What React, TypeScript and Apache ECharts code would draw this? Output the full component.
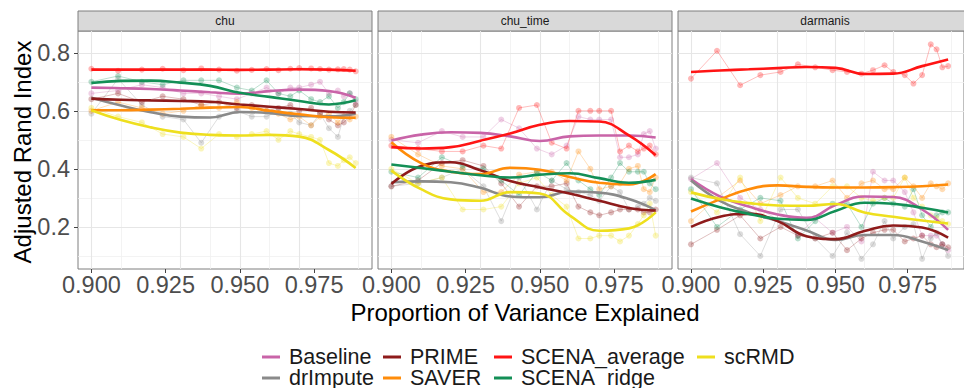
import React, { useEffect, useRef } from "react";
import * as echarts from "echarts";

const PANELS = ["chu", "chu_time", "darmanis"];
// draw order (ggplot factor order); later ones on top
const METHODS = ["Baseline", "drImpute", "PRIME", "SAVER", "SCENA_average", "SCENA_ridge", "scRMD"];
const METHOD_COLORS: Record<string, string> = {
  Baseline: "#C964A8",
  drImpute: "#8A8A8A",
  PRIME: "#8E1B1B",
  SAVER: "#FF8C0A",
  SCENA_average: "#FF1414",
  SCENA_ridge: "#138F56",
  scRMD: "#EEDF1E",
};
const LEGEND_COLUMNS = [
  ["Baseline", "drImpute"],
  ["PRIME", "SAVER"],
  ["SCENA_average", "SCENA_ridge"],
  ["scRMD"],
];

const X_RAW = [0.900, 0.909, 0.917, 0.924, 0.931, 0.937, 0.943, 0.949, 0.954, 0.959, 0.963, 0.967, 0.970, 0.974, 0.977, 0.980, 0.983, 0.985, 0.987, 0.989];
const X_SMOOTH = [0.900, 0.910, 0.920, 0.930, 0.940, 0.950, 0.960, 0.970, 0.980, 0.989];
const X_TICKS = [0.9, 0.925, 0.95, 0.975];
const X_MINOR = [0.9125, 0.9375, 0.9625, 0.9875];
const Y_TICKS = [0.2, 0.4, 0.6, 0.8];
const Y_MINOR = [0.1, 0.3, 0.5, 0.7];

// ---- chu ----
const chu_Baseline_raw = [0.66, 0.67, 0.69, 0.68, 0.66, 0.66, 0.65, 0.64, 0.66, 0.68, 0.66, 0.68, 0.68, 0.69, 0.70, 0.66, 0.67, 0.65, 0.66, 0.63];
const chu_drImpute_raw = [0.59, 0.71, 0.62, 0.58, 0.57, 0.49, 0.58, 0.60, 0.58, 0.58, 0.60, 0.59, 0.56, 0.55, 0.59, 0.54, 0.51, 0.58, 0.60, 0.62];
const chu_PRIME_raw = [0.64, 0.66, 0.63, 0.65, 0.64, 0.62, 0.63, 0.61, 0.62, 0.60, 0.61, 0.62, 0.60, 0.61, 0.59, 0.57, 0.55, 0.56, 0.58, 0.62];
const chu_SAVER_raw = [0.60, 0.63, 0.61, 0.59, 0.60, 0.62, 0.61, 0.63, 0.61, 0.60, 0.59, 0.57, 0.58, 0.55, 0.58, 0.59, 0.56, 0.58, 0.57, 0.58];
const chu_SCENA_average_raw = [0.745, 0.738, 0.742, 0.745, 0.740, 0.746, 0.742, 0.738, 0.741, 0.744, 0.740, 0.745, 0.747, 0.746, 0.744, 0.742, 0.743, 0.744, 0.742, 0.736];
const chu_SCENA_ridge_raw = [0.70, 0.72, 0.70, 0.69, 0.705, 0.705, 0.705, 0.68, 0.67, 0.705, 0.66, 0.65, 0.67, 0.64, 0.63, 0.65, 0.61, 0.63, 0.66, 0.64];
const chu_scRMD_raw = [0.61, 0.58, 0.56, 0.52, 0.51, 0.47, 0.52, 0.51, 0.52, 0.53, 0.50, 0.53, 0.52, 0.51, 0.50, 0.42, 0.41, 0.43, 0.44, 0.42];

const chu_Baseline_fit = [0.680, 0.678, 0.675, 0.670, 0.664, 0.659, 0.668, 0.673, 0.668, 0.645];
const chu_drImpute_fit = [0.645, 0.618, 0.595, 0.580, 0.577, 0.596, 0.592, 0.582, 0.581, 0.590];
const chu_PRIME_fit = [0.642, 0.638, 0.636, 0.634, 0.631, 0.622, 0.614, 0.606, 0.597, 0.594];
const chu_SAVER_fit = [0.602, 0.602, 0.604, 0.607, 0.611, 0.613, 0.600, 0.588, 0.578, 0.576];
const chu_SCENA_average_fit = [0.742, 0.742, 0.742, 0.742, 0.742, 0.741, 0.742, 0.743, 0.742, 0.738];
const chu_SCENA_ridge_fit = [0.696, 0.703, 0.704, 0.697, 0.686, 0.662, 0.648, 0.634, 0.622, 0.636];
const chu_scRMD_fit = [0.602, 0.568, 0.543, 0.525, 0.517, 0.515, 0.517, 0.511, 0.465, 0.403];

// ---- chu_time ----
const chuTime_Baseline_raw = [0.50, 0.49, 0.53, 0.51, 0.51, 0.57, 0.54, 0.47, 0.45, 0.48, 0.58, 0.57, 0.57, 0.57, 0.44, 0.44, 0.45, 0.52, 0.53, 0.47];
const chuTime_drImpute_raw = [0.34, 0.35, 0.37, 0.40, 0.34, 0.22, 0.37, 0.26, 0.36, 0.33, 0.32, 0.31, 0.29, 0.34, 0.32, 0.26, 0.27, 0.28, 0.30, 0.29];
const chuTime_PRIME_raw = [0.34, 0.36, 0.42, 0.43, 0.41, 0.35, 0.27, 0.34, 0.34, 0.35, 0.27, 0.25, 0.24, 0.25, 0.26, 0.26, 0.26, 0.25, 0.25, 0.26];
const chuTime_SAVER_raw = [0.51, 0.45, 0.41, 0.40, 0.32, 0.32, 0.38, 0.39, 0.39, 0.36, 0.46, 0.40, 0.33, 0.34, 0.35, 0.40, 0.41, 0.33, 0.32, 0.37];
const chuTime_SCENA_average_raw = [0.48, 0.47, 0.46, 0.46, 0.48, 0.47, 0.61, 0.62, 0.49, 0.47, 0.60, 0.60, 0.60, 0.60, 0.46, 0.48, 0.46, 0.47, 0.48, 0.45];
const chuTime_SCENA_ridge_raw = [0.39, 0.37, 0.44, 0.41, 0.40, 0.36, 0.31, 0.39, 0.36, 0.42, 0.36, 0.33, 0.31, 0.37, 0.42, 0.39, 0.39, 0.39, 0.35, 0.33];
const chuTime_scRMD_raw = [0.40, 0.35, 0.37, 0.26, 0.26, 0.27, 0.35, 0.37, 0.31, 0.27, 0.16, 0.16, 0.17, 0.17, 0.15, 0.17, 0.21, 0.24, 0.28, 0.17];

const chuTime_Baseline_fit = [0.498, 0.518, 0.526, 0.524, 0.512, 0.496, 0.512, 0.515, 0.515, 0.508];
const chuTime_drImpute_fit = [0.354, 0.357, 0.354, 0.335, 0.305, 0.302, 0.322, 0.318, 0.296, 0.258];
const chuTime_PRIME_fit = [0.348, 0.410, 0.423, 0.395, 0.358, 0.336, 0.315, 0.290, 0.265, 0.256];
const chuTime_SAVER_fit = [0.492, 0.420, 0.390, 0.382, 0.404, 0.397, 0.372, 0.352, 0.346, 0.382];
const chuTime_SCENA_average_fit = [0.475, 0.470, 0.475, 0.497, 0.522, 0.552, 0.565, 0.563, 0.515, 0.447];
const chuTime_SCENA_ridge_fit = [0.415, 0.403, 0.390, 0.378, 0.370, 0.380, 0.385, 0.368, 0.352, 0.362];
const chuTime_scRMD_fit = [0.394, 0.330, 0.295, 0.290, 0.320, 0.315, 0.240, 0.187, 0.195, 0.250];

// ---- darmanis ----
const darmanis_Baseline_raw = [0.365, 0.42, 0.30, 0.26, 0.22, 0.17, 0.23, 0.18, 0.20, 0.15, 0.39, 0.36, 0.36, 0.32, 0.25, 0.17, 0.17, 0.17, 0.14, 0.12];
const darmanis_drImpute_raw = [0.37, 0.35, 0.175, 0.10, 0.26, 0.26, 0.16, 0.10, 0.18, 0.09, 0.14, 0.22, 0.16, 0.20, 0.21, 0.09, 0.16, 0.18, 0.14, 0.10];
const darmanis_PRIME_raw = [0.14, 0.19, 0.24, 0.16, 0.20, 0.17, 0.16, 0.18, 0.12, 0.16, 0.18, 0.19, 0.19, 0.15, 0.16, 0.17, 0.14, 0.13, 0.14, 0.13];
const darmanis_SAVER_raw = [0.22, 0.30, 0.36, 0.28, 0.31, 0.34, 0.34, 0.36, 0.30, 0.35, 0.36, 0.33, 0.33, 0.37, 0.34, 0.30, 0.35, 0.34, 0.33, 0.35];
const darmanis_SCENA_average_raw = [0.711, 0.807, 0.688, 0.723, 0.734, 0.760, 0.750, 0.740, 0.734, 0.728, 0.740, 0.757, 0.734, 0.723, 0.694, 0.723, 0.829, 0.812, 0.750, 0.754];
const darmanis_SCENA_ridge_raw = [0.33, 0.20, 0.26, 0.30, 0.29, 0.16, 0.22, 0.28, 0.28, 0.20, 0.28, 0.30, 0.28, 0.27, 0.33, 0.24, 0.20, 0.24, 0.25, 0.25];
const darmanis_scRMD_raw = [0.32, 0.25, 0.37, 0.22, 0.37, 0.30, 0.28, 0.34, 0.34, 0.30, 0.29, 0.30, 0.30, 0.37, 0.30, 0.27, 0.24, 0.23, 0.22, 0.21];

const darmanis_Baseline_fit = [0.365, 0.305, 0.270, 0.243, 0.231, 0.275, 0.305, 0.303, 0.260, 0.190];
const darmanis_drImpute_fit = [0.360, 0.290, 0.250, 0.220, 0.188, 0.155, 0.172, 0.172, 0.150, 0.120];
const darmanis_PRIME_fit = [0.200, 0.235, 0.245, 0.220, 0.168, 0.158, 0.186, 0.205, 0.198, 0.163];
const darmanis_SAVER_fit = [0.253, 0.295, 0.330, 0.343, 0.338, 0.336, 0.336, 0.337, 0.340, 0.346];
const darmanis_SCENA_average_fit = [0.734, 0.739, 0.743, 0.747, 0.751, 0.748, 0.727, 0.728, 0.754, 0.777];
const darmanis_SCENA_ridge_fit = [0.298, 0.268, 0.245, 0.228, 0.224, 0.255, 0.283, 0.280, 0.266, 0.250];
const darmanis_scRMD_fit = [0.319, 0.296, 0.282, 0.274, 0.273, 0.279, 0.250, 0.235, 0.222, 0.212];

const RAW: Record<string, number[]>[] = [
  { Baseline: chu_Baseline_raw, drImpute: chu_drImpute_raw, PRIME: chu_PRIME_raw, SAVER: chu_SAVER_raw, SCENA_average: chu_SCENA_average_raw, SCENA_ridge: chu_SCENA_ridge_raw, scRMD: chu_scRMD_raw },
  { Baseline: chuTime_Baseline_raw, drImpute: chuTime_drImpute_raw, PRIME: chuTime_PRIME_raw, SAVER: chuTime_SAVER_raw, SCENA_average: chuTime_SCENA_average_raw, SCENA_ridge: chuTime_SCENA_ridge_raw, scRMD: chuTime_scRMD_raw },
  { Baseline: darmanis_Baseline_raw, drImpute: darmanis_drImpute_raw, PRIME: darmanis_PRIME_raw, SAVER: darmanis_SAVER_raw, SCENA_average: darmanis_SCENA_average_raw, SCENA_ridge: darmanis_SCENA_ridge_raw, scRMD: darmanis_scRMD_raw },
];
const FIT: Record<string, number[]>[] = [
  { Baseline: chu_Baseline_fit, drImpute: chu_drImpute_fit, PRIME: chu_PRIME_fit, SAVER: chu_SAVER_fit, SCENA_average: chu_SCENA_average_fit, SCENA_ridge: chu_SCENA_ridge_fit, scRMD: chu_scRMD_fit },
  { Baseline: chuTime_Baseline_fit, drImpute: chuTime_drImpute_fit, PRIME: chuTime_PRIME_fit, SAVER: chuTime_SAVER_fit, SCENA_average: chuTime_SCENA_average_fit, SCENA_ridge: chuTime_SCENA_ridge_fit, scRMD: chuTime_scRMD_fit },
  { Baseline: darmanis_Baseline_fit, drImpute: darmanis_drImpute_fit, PRIME: darmanis_PRIME_fit, SAVER: darmanis_SAVER_fit, SCENA_average: darmanis_SCENA_average_fit, SCENA_ridge: darmanis_SCENA_ridge_fit, scRMD: darmanis_scRMD_fit },
];

const FONT = "'Liberation Sans', Arial, sans-serif";
const PANEL_LEFT = [78, 378, 678];
const PANEL_W = 294;
const PANEL_TOP = 31;
const PANEL_H = 238;
const X_MIN = 0.8955;
const X_MAX = 0.9945;
const Y_MIN = 0.055;
const Y_MAX = 0.875;
const LEGEND_COL_LEFT = [262, 383, 494, 697];
const LEGEND_ROW_TOP = [346, 367];

export default function App() {
  const ref = useRef<HTMLDivElement>(null);
  useEffect(() => {
    if (!ref.current) return;
    const chart = echarts.init(ref.current, undefined, { renderer: "svg" });

    const grids = PANEL_LEFT.map((left) => ({
      left, top: PANEL_TOP, width: PANEL_W, height: PANEL_H,
      show: true, borderColor: "#7F7F7F", borderWidth: 1, backgroundColor: "#FFFFFF",
    }));
    const xAxes = PANEL_LEFT.map((_, i) => ({
      type: "value", gridIndex: i, min: X_MIN, max: X_MAX,
      splitLine: { show: false }, axisLine: { show: false },
      axisTick: { show: true, length: 4, customValues: X_TICKS, lineStyle: { color: "#444" } },
      axisLabel: { customValues: X_TICKS, formatter: (v: number) => v.toFixed(3), fontSize: 23.5, color: "#4D4D4D", fontFamily: FONT, margin: 4 },
    }));
    const yAxes = PANEL_LEFT.map((_, i) => ({
      type: "value", gridIndex: i, min: Y_MIN, max: Y_MAX,
      splitLine: { show: false }, axisLine: { show: false },
      axisTick: { show: i === 0, length: 4, customValues: Y_TICKS, lineStyle: { color: "#444" } },
      axisLabel: { show: i === 0, customValues: Y_TICKS, formatter: (v: number) => v.toFixed(1), fontSize: 23.5, color: "#4D4D4D", fontFamily: FONT, margin: 8 },
    }));

    const series: any[] = [];
    // fitted curves first so the legend picks their style
    PANELS.forEach((_, p) => {
      METHODS.forEach((m, k) => {
        series.push({
          name: m, type: "line", xAxisIndex: p, yAxisIndex: p,
          data: X_SMOOTH.map((x, i) => [x, FIT[p][m][i]]),
          smooth: 0.45, showSymbol: false, symbol: "none",
          lineStyle: { width: 2.6, color: METHOD_COLORS[m] },
          itemStyle: { color: METHOD_COLORS[m] },
          z: 20 + k, silent: true,
        });
      });
    });
    PANELS.forEach((_, p) => {
      series.push({
        name: "grid" + p, type: "line", xAxisIndex: p, yAxisIndex: p,
        data: [[0.95, 0.5]], showSymbol: false, symbol: "none",
        lineStyle: { opacity: 0 }, z: 1, silent: true,
        markLine: {
          silent: true, symbol: "none", label: { show: false },
          data: [
            ...X_MINOR.map((v) => ({ xAxis: v, lineStyle: { color: "#F0F0F0", width: 0.8, type: "solid" } })),
            ...Y_MINOR.map((v) => ({ yAxis: v, lineStyle: { color: "#F0F0F0", width: 0.8, type: "solid" } })),
            ...X_TICKS.map((v) => ({ xAxis: v, lineStyle: { color: "#E6E6E6", width: 1.1, type: "solid" } })),
            ...Y_TICKS.map((v) => ({ yAxis: v, lineStyle: { color: "#E6E6E6", width: 1.1, type: "solid" } })),
          ],
        },
      });
      METHODS.forEach((m, k) => {
        series.push({
          name: m + " (raw)", type: "line", xAxisIndex: p, yAxisIndex: p,
          data: X_RAW.map((x, i) => [x, RAW[p][m][i]]),
          symbol: "circle", symbolSize: 6, showSymbol: true,
          lineStyle: { width: 1, color: METHOD_COLORS[m], opacity: 0.28 },
          itemStyle: { color: METHOD_COLORS[m], opacity: 0.3 },
          z: 5 + k, silent: true,
        });
      });
    });

    const legends: any[] = [];
    LEGEND_COLUMNS.forEach((col, c) => {
      col.forEach((name, r) => {
        legends.push({
          data: [name], orient: "horizontal", left: LEGEND_COL_LEFT[c], top: LEGEND_ROW_TOP[r],
          padding: 0, itemGap: 0, itemWidth: 18, itemHeight: 3, icon: "rect",
          selectedMode: false,
          textStyle: { fontSize: 21.5, color: "#1A1A1A", fontFamily: FONT, lineHeight: 20, padding: [0, 0, 0, 4] },
        });
      });
    });

    const graphic: any[] = [];
    PANEL_LEFT.forEach((left, p) => {
      graphic.push({
        type: "rect", shape: { x: left, y: 11, width: PANEL_W, height: 20 },
        style: { fill: "#D9D9D9", stroke: "#7F7F7F", lineWidth: 1 }, silent: true,
      });
      graphic.push({
        type: "text", x: left + PANEL_W / 2, y: 21,
        style: { text: PANELS[p], fontSize: 12, fill: "#1A1A1A", fontFamily: FONT, textAlign: "center", textVerticalAlign: "middle" },
        silent: true,
      });
    });
    graphic.push({
      type: "text", x: 525, y: 312,
      style: { text: "Proportion of Variance Explained", fontSize: 24, fill: "#000000", fontFamily: FONT, textAlign: "center", textVerticalAlign: "middle" },
      silent: true,
    });
    graphic.push({
      type: "text", x: 22, y: 152, rotation: Math.PI / 2,
      style: { text: "Adjusted Rand Index", fontSize: 24, fill: "#000000", fontFamily: FONT, textAlign: "center", textVerticalAlign: "middle" },
      silent: true,
    });

    chart.setOption({
      animation: false,
      backgroundColor: "#FFFFFF",
      grid: grids,
      xAxis: xAxes,
      yAxis: yAxes,
      legend: legends,
      series,
      graphic,
    });
    return () => chart.dispose();
  }, []);
  return <div ref={ref} style={{ position: "fixed", left: 0, top: 0, width: 964, height: 388 }} />;
}
